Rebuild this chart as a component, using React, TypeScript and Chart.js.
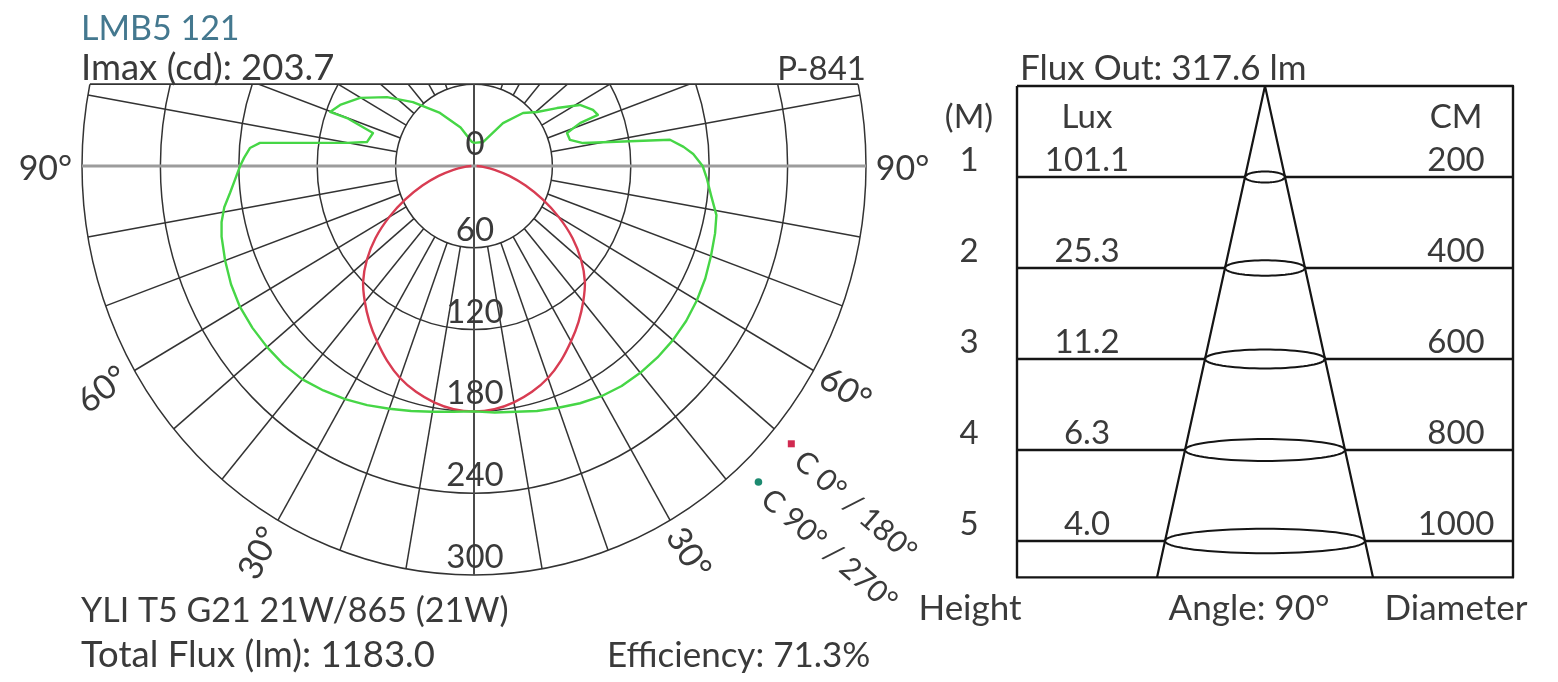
import React, { useEffect, useRef } from 'react';
import { Chart, registerables } from 'chart.js';

Chart.register(...registerables);

const DEG = Math.PI / 180;

// ---------- Polar diagram data (gamma angle from nadir in degrees, intensity in cd) ----------
const redAngles = [0, 5, 10, 15, 20, 25, 30, 35, 40, 45, 50, 55, 60, 65, 70, 75, 80, 85, 90];
const redIntensity = [180, 179, 176, 171.5, 165.5, 157.5, 148.5, 139.5, 130, 120, 107, 92, 75, 58, 42, 28, 16, 7, 2];

const greenLeftAngles = [0, 5, 10, 15, 20, 25, 30, 35, 40, 45, 50, 55, 60, 65, 70, 75, 78, 81, 84, 87, 90, 92, 94.4, 95.9, 99.9, 102.1, 107.4, 109.9, 109.8, 113.6, 119.8, 127.2, 135.1, 146.2, 160, 174, 180];
const greenLeftIntensity = [180, 181, 183, 186, 189.5, 193.5, 197.5, 201, 204.3, 206, 206.7, 207, 206.8, 205.2, 202.7, 200, 197.5, 193.5, 187.7, 183, 179, 176, 172, 164.7, 98.7, 83.8, 81, 103.4, 117.1, 111.8, 100.5, 83.6, 66.2, 46.8, 30, 18, 17];

const greenRightAngles = [0, 5, 10, 15, 20, 25, 30, 35, 40, 45, 50, 55, 60, 65, 70, 75, 79, 83, 87, 90, 93, 95, 97.3, 101.4, 104.6, 108.8, 111.2, 111.6, 114.3, 118.9, 123.8, 129.4, 136, 144.8, 158, 180];
const greenRightIntensity = [180, 181.5, 183, 186, 188.7, 192, 195, 197, 198, 198.6, 198.7, 198.2, 197, 195.3, 193, 191, 189, 183, 178.5, 175, 168, 161, 151.2, 85.1, 75.9, 75.2, 87, 102, 99.9, 92.6, 76.4, 62.4, 54, 38.5, 19, 17];

const ringValues = [60, 120, 180, 240, 300];
const ringLabelValues = [0, 60, 120, 180, 240, 300];
const spokeAngles = [10, 20, 30, 40, 50, 60, 70, 80, 100, 110, 120, 130, 140, 150, 160, 170];
const degreeLabelAngles = [30, 60, 90];
const gridTopCd = 60;

const titleText = 'LMB5 121';
const imaxText = 'Imax (cd): 203.7';
const codeText = 'P-841';
const lampText = 'YLI T5 G21 21W/865 (21W)';
const totalFluxText = 'Total Flux (lm): 1183.0';
const efficiencyText = 'Efficiency: 71.3%';
const legendLabels = ['C 0° / 180°', 'C 90° / 270°'];
const legendColors = ['#d12a50', '#1d8a70'];

// ---------- Cone diagram data ----------
const heightsM = [1, 2, 3, 4, 5];
const luxValues = ['101.1', '25.3', '11.2', '6.3', '4.0'];
const diametersCm = [200, 400, 600, 800, 1000];
const beamAngleDeg = 90;
const fluxOutText = 'Flux Out: 317.6 lm';
const headerLabels = ['(M)', 'Lux', 'CM'];
const footerLabels = ['Height', 'Angle: 90°', 'Diameter'];

// ---------- layout constants ----------
const W = 1558;
const H = 682;
const polarCenter = { x: 474, y: 166 };
const pxPerCdX = 392 / 300;
const pxPerCdY = 409 / 300;
const coneApex = { x: 1265, y: 86 };
const pxPerCm = 0.2;
const pxPerM = 91;
const boxHalfWidthCm = 1240;
const boxDepthM = 5.4;

const FAMILY = 'Lato, "Open Sans", sans-serif';
const F30 = `30px ${FAMILY}`;
const F33 = `33px ${FAMILY}`;
const F34 = `34px ${FAMILY}`;
const F35 = `35px ${FAMILY}`;
const F36 = `36.5px ${FAMILY}`;
const TEXT = '#3a3a3a';
const INK = '#151515';

function polarPoints(angles: number[], values: number[], side: number) {
  return angles.map((a, i) => ({ x: side * values[i] * Math.sin(a * DEG), y: -values[i] * Math.cos(a * DEG) }));
}

const coneRadius = (h: number) => h * Math.tan((beamAngleDeg / 2) * DEG) * 100;

function lineDs(data: { x: number; y: number }[], color: string, width: number, axes: 'p' | 'c', tension = 0) {
  return {
    data,
    showLine: true,
    borderColor: color,
    backgroundColor: color,
    borderWidth: width,
    pointRadius: 0,
    fill: false,
    tension,
    borderJoinStyle: 'round' as const,
    xAxisID: axes === 'p' ? 'px' : 'cx',
    yAxisID: axes === 'p' ? 'py' : 'cy',
  };
}

function buildDatasets() {
  const ds: any[] = [];
  // cone diagram
  const B = boxHalfWidthCm;
  ds.push(lineDs([{ x: -B, y: 0 }, { x: B, y: 0 }, { x: B, y: boxDepthM }, { x: -B, y: boxDepthM }, { x: -B, y: 0 }], INK, 2.4, 'c'));
  heightsM.forEach((h, i) => {
    const r = diametersCm[i] / 2;
    ds.push(lineDs([{ x: -B, y: h }, { x: -r, y: h }], INK, 2.4, 'c'));
    ds.push(lineDs([{ x: r, y: h }, { x: B, y: h }], INK, 2.4, 'c'));
    const minor = 0.06 * Math.sqrt(h);
    const pts = [];
    for (let k = 0; k <= 72; k++) {
      const t = (k / 72) * Math.PI * 2;
      pts.push({ x: r * Math.cos(t), y: h + minor * Math.sin(t) });
    }
    ds.push(lineDs(pts, INK, 2, 'c'));
  });
  const rb = coneRadius(boxDepthM);
  ds.push(lineDs([{ x: -rb, y: boxDepthM }, { x: 0, y: 0 }, { x: rb, y: boxDepthM }], INK, 2.2, 'c'));

  // polar curves
  const green = [...polarPoints(greenLeftAngles, greenLeftIntensity, -1).reverse(), ...polarPoints(greenRightAngles, greenRightIntensity, 1)];
  ds.push(lineDs(green, '#46d646', 2.4, 'p'));
  const red = [...polarPoints(redAngles, redIntensity, -1).reverse(), ...polarPoints(redAngles, redIntensity, 1).slice(1)];
  ds.push(lineDs(red, '#d83c52', 2.4, 'p', 0.35));
  return ds;
}

const polarGrid = {
  id: 'polarGrid',
  beforeDatasetsDraw(chart: any) {
    const { ctx } = chart;
    const X = (v: number) => chart.scales.px.getPixelForValue(v);
    const Y = (v: number) => chart.scales.py.getPixelForValue(v);
    const cx = X(0);
    const cy = Y(0);
    const R = ringValues[ringValues.length - 1];
    const r0 = ringValues[0];
    const top = Y(gridTopCd);
    ctx.save();
    ctx.beginPath();
    ctx.rect(0, top, chart.width, chart.height - top);
    ctx.clip();
    ctx.strokeStyle = '#333333';
    ctx.lineWidth = 1.5;
    for (const r of ringValues) {
      ctx.beginPath();
      ctx.ellipse(cx, cy, X(r) - cx, cy - Y(r), 0, 0, Math.PI * 2);
      ctx.stroke();
    }
    for (const a of spokeAngles) {
      for (const s of [-1, 1]) {
        ctx.beginPath();
        ctx.moveTo(X(s * r0 * Math.sin(a * DEG)), Y(-r0 * Math.cos(a * DEG)));
        ctx.lineTo(X(s * R * Math.sin(a * DEG)), Y(-R * Math.cos(a * DEG)));
        ctx.stroke();
      }
    }
    ctx.restore();
    ctx.save();
    const half = Math.sqrt(R * R - gridTopCd * gridTopCd);
    ctx.strokeStyle = '#333333';
    ctx.lineWidth = 1.8;
    ctx.beginPath();
    ctx.moveTo(X(-half), top);
    ctx.lineTo(X(half), top);
    ctx.stroke();
    ctx.strokeStyle = '#4a4a4a';
    ctx.lineWidth = 2;
    ctx.beginPath();
    ctx.moveTo(cx, top);
    ctx.lineTo(cx, Y(-R));
    ctx.stroke();
    ctx.strokeStyle = '#9c9c9c';
    ctx.lineWidth = 3;
    ctx.beginPath();
    ctx.moveTo(X(-R), cy);
    ctx.lineTo(X(R), cy);
    ctx.stroke();
    ctx.restore();
  },
};

function txt(ctx: CanvasRenderingContext2D, s: string, x: number, y: number, align: CanvasTextAlign = 'left', rot = 0, baseline: CanvasTextBaseline = 'alphabetic') {
  ctx.save();
  ctx.translate(x, y);
  if (rot) ctx.rotate(rot * DEG);
  ctx.textAlign = align;
  ctx.textBaseline = baseline;
  ctx.fillText(s, 0, 0);
  ctx.restore();
}

const textPlugin = {
  id: 'texts',
  afterDatasetsDraw(chart: any) {
    const { ctx } = chart;
    const X = (v: number) => chart.scales.px.getPixelForValue(v);
    const Y = (v: number) => chart.scales.py.getPixelForValue(v);
    const CX = (v: number) => chart.scales.cx.getPixelForValue(v);
    const CY = (v: number) => chart.scales.cy.getPixelForValue(v);
    const R = ringValues[ringValues.length - 1];
    const left = X(-R) - 1;
    ctx.save();
    ctx.font = F34;
    ctx.fillStyle = '#44788f';
    txt(ctx, titleText, left, 40);
    ctx.fillStyle = TEXT;
    ctx.font = F36;
    txt(ctx, imaxText, left, 80);
    ctx.font = F33;
    txt(ctx, codeText, X(R), 80, 'right');
    ctx.font = F34;
    txt(ctx, lampText, left, 622);
    ctx.font = F36;
    txt(ctx, totalFluxText, left, 667);
    ctx.font = F35;
    txt(ctx, efficiencyText, 607, 667);

    // ring labels
    ctx.font = F33;
    for (const v of ringLabelValues) {
      txt(ctx, String(v), X(0) + 1, Y(-v) - (v === 0 ? 11 : 7), 'center');
    }
    // degree labels
    ctx.font = F34;
    const rotL: Record<number, number> = { 30: -63, 60: -37, 90: 0 };
    const rotR: Record<number, number> = { 30: 58, 60: 32, 90: 0 };
    const rl = 328;
    for (const a of degreeLabelAngles) {
      const dy = a === 90 ? 3 : 0;
      txt(ctx, `${a}°`, X(-rl * Math.sin(a * DEG)), Y(-rl * Math.cos(a * DEG)) + dy, 'center', rotL[a], 'middle');
      txt(ctx, `${a}°`, X(rl * Math.sin(a * DEG)), Y(-rl * Math.cos(a * DEG)) + dy, 'center', rotR[a], 'middle');
    }
    // legend
    ctx.font = F30;
    const legendPos = [{ a: 50, r: 317 }, { a: 43.2, r: 318 }];
    legendPos.forEach((p, i) => {
      const mx = X(p.r * Math.sin(p.a * DEG));
      const my = Y(-p.r * Math.cos(p.a * DEG));
      ctx.fillStyle = legendColors[i];
      if (i === 0) ctx.fillRect(mx - 3.5, my - 3.5, 7, 7);
      else {
        ctx.beginPath();
        ctx.arc(mx, my, 3.8, 0, Math.PI * 2);
        ctx.fill();
      }
      ctx.fillStyle = TEXT;
      txt(ctx, legendLabels[i], mx + 7, my + 13, 'left', 41, 'middle');
    });

    // cone diagram texts
    const colH = -1480;
    const colLux = -890;
    const colCm = 955;
    ctx.font = F35;
    txt(ctx, fluxOutText, CX(-boxHalfWidthCm) + 3, CY(0) - 6);
    ctx.font = F33;
    const headY = CY(0.46);
    txt(ctx, headerLabels[0], CX(colH), headY, 'center');
    txt(ctx, headerLabels[1], CX(colLux), headY, 'center');
    txt(ctx, headerLabels[2], CX(colCm), headY, 'center');
    heightsM.forEach((h, i) => {
      const y = CY(h) - 6;
      txt(ctx, String(h), CX(colH), y, 'center');
      txt(ctx, luxValues[i], CX(colLux), y, 'center');
      txt(ctx, String(diametersCm[i]), CX(colCm), y, 'center');
    });
    const footY = CY(5.87);
    ctx.font = F35;
    txt(ctx, footerLabels[0], CX(colH) + 1, footY, 'center');
    txt(ctx, footerLabels[1], CX(-80), footY, 'center');
    txt(ctx, footerLabels[2], CX(colCm), footY, 'center');
    ctx.restore();
  },
};

export default function App() {
  const ref = useRef<HTMLCanvasElement>(null);
  useEffect(() => {
    const canvas = ref.current;
    if (!canvas) return;
    const chart = new Chart(canvas, {
      type: 'scatter',
      data: { datasets: buildDatasets() },
      options: {
        responsive: false,
        maintainAspectRatio: false,
        animation: false,
        devicePixelRatio: 1,
        events: [],
        layout: { padding: 0 },
        plugins: { legend: { display: false }, tooltip: { enabled: false }, title: { display: false } },
        scales: {
          px: { type: 'linear', axis: 'x', display: false, min: -polarCenter.x / pxPerCdX, max: (W - polarCenter.x) / pxPerCdX },
          py: { type: 'linear', axis: 'y', display: false, min: -(H - polarCenter.y) / pxPerCdY, max: polarCenter.y / pxPerCdY },
          cx: { type: 'linear', axis: 'x', display: false, min: -coneApex.x / pxPerCm, max: (W - coneApex.x) / pxPerCm },
          cy: { type: 'linear', axis: 'y', display: false, reverse: true, min: -coneApex.y / pxPerM, max: (H - coneApex.y) / pxPerM },
        },
      } as any,
      plugins: [polarGrid, textPlugin],
    });
    return () => chart.destroy();
  }, []);
  return (
    <div style={{ position: 'absolute', left: 0, top: 0, width: W, height: H, background: '#ffffff' }}>
      <canvas ref={ref} width={W} height={H} style={{ display: 'block', width: W, height: H }} />
    </div>
  );
}
